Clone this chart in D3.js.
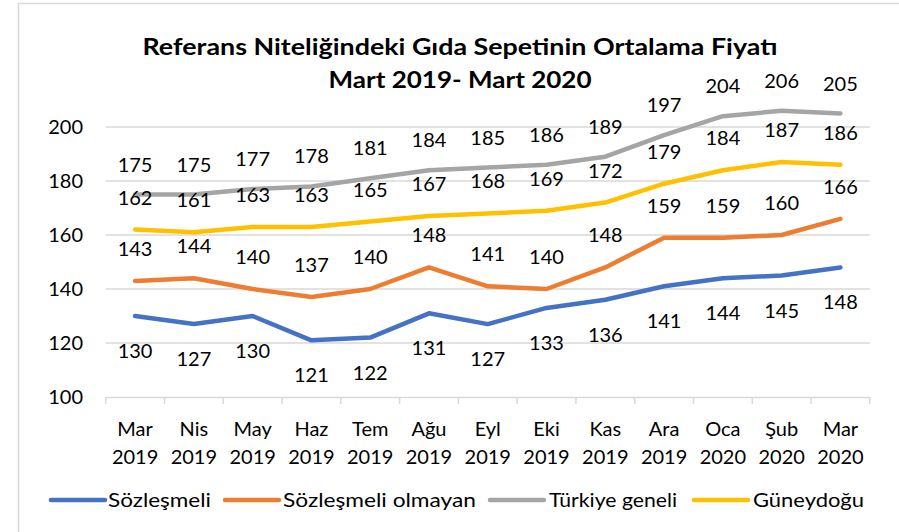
<!DOCTYPE html>
<html><head><meta charset="utf-8">
<script src="https://cdn.jsdelivr.net/npm/d3@7"></script>
<style>body{margin:0;background:#fff;}svg{display:block;font-family:Lato,"Open Sans",sans-serif;}</style>
</head><body>
<svg id="c" width="899" height="532"></svg>
<script>
const months = ["Mar","Nis","May","Haz","Tem","Ağu","Eyl","Eki","Kas","Ara","Oca","Şub","Mar"];
const years = ["2019","2019","2019","2019","2019","2019","2019","2019","2019","2019","2020","2020","2020"];
const sozlesmeli = [130,127,130,121,122,131,127,133,136,141,144,145,148];
const sozlesmeliOlmayan = [143,144,140,137,140,148,141,140,148,159,159,160,166];
const turkiyeGeneli = [175,175,177,178,181,184,185,186,189,197,204,206,205];
const guneydogu = [162,161,163,163,165,167,168,169,172,179,184,187,186];
const yTicks = [100,120,140,160,180,200];
const seriesNames = ["Sözleşmeli","Sözleşmeli olmayan","Türkiye geneli","Güneydoğu"];
const titleLines = ["Referans Niteliğindeki Gıda Sepetinin Ortalama Fiyatı","Mart 2019- Mart 2020"];

const series = [
  {name:seriesNames[0], values:sozlesmeli, color:"#4472C4", labelDy:35},
  {name:seriesNames[1], values:sozlesmeliOlmayan, color:"#ED7D31", labelDy:-32},
  {name:seriesNames[2], values:turkiyeGeneli, color:"#A5A5A5", labelDy:-30},
  {name:seriesNames[3], values:guneydogu, color:"#FFC000", labelDy:-32}
];

const svg = d3.select("#c");
// chart border
svg.append("rect").attr("x",18.5).attr("y",3.5).attr("width",900).attr("height",540)
  .attr("fill","#fff").attr("stroke","#D9D9D9").attr("stroke-width",1.5);

const x = d3.scaleBand().domain(d3.range(months.length)).range([105.7,869.8]);
const y = d3.scaleLinear().domain([100,200]).range([397,127]);

// gridlines
svg.append("g").selectAll("line").data(yTicks.filter(d=>d>100)).join("line")
  .attr("x1",x.range()[0]).attr("x2",x.range()[1])
  .attr("y1",d=>y(d)).attr("y2",d=>y(d))
  .attr("stroke","#D9D9D9").attr("stroke-width",1.5);

// y labels
svg.append("g").selectAll("text").data(yTicks).join("text")
  .attr("x",83).attr("y",d=>y(d)).attr("dy","0.35em").attr("text-anchor","end")
  .attr("font-size",20).attr("fill","#000").text(d=>d);

// x axis
const xAxis = d3.axisBottom(x).tickSize(0).tickFormat("");
const gx = svg.append("g").attr("transform",`translate(0,${y(100)})`).call(xAxis);
gx.select(".domain").attr("stroke","#D9D9D9").attr("stroke-width",1.5);
gx.selectAll(".tick").remove();
const bounds = d3.range(months.length+1).map(i=> i<months.length ? x(i) : x.range()[1]);
svg.append("g").selectAll("line").data(bounds).join("line")
  .attr("x1",d=>d).attr("x2",d=>d).attr("y1",y(100)).attr("y2",y(100)+7)
  .attr("stroke","#D9D9D9").attr("stroke-width",1.5);

const xl = svg.append("g").selectAll("g").data(months).join("g")
  .attr("transform",(d,i)=>`translate(${x(i)+x.bandwidth()/2},0)`);
xl.append("text").attr("y",429).attr("dy","0.35em").attr("text-anchor","middle").attr("font-size",20).text(d=>d);
xl.append("text").attr("y",457).attr("dy","0.35em").attr("text-anchor","middle").attr("font-size",20).text((d,i)=>years[i]);

// lines
const line = d3.line().x((d,i)=>x(i)+x.bandwidth()/2).y(d=>y(d));
svg.append("g").selectAll("path").data(series).join("path")
  .attr("d",d=>line(d.values)).attr("fill","none").attr("stroke",d=>d.color)
  .attr("stroke-width",4.5).attr("stroke-linejoin","round").attr("stroke-linecap","round");

// data labels
series.forEach(s=>{
  svg.append("g").selectAll("text").data(s.values).join("text")
    .attr("x",(d,i)=>x(i)+x.bandwidth()/2).attr("y",d=>y(d)+s.labelDy).attr("dy","0.35em")
    .attr("text-anchor","middle").attr("font-size",20).attr("fill","#000").text(d=>d);
});

// title
svg.append("text").attr("x",460).attr("y",47).attr("dy","0.35em").attr("text-anchor","middle")
  .attr("font-size",23).attr("font-weight","bold").attr("textLength",635).attr("lengthAdjust","spacingAndGlyphs").text(titleLines[0]);
svg.append("text").attr("x",460).attr("y",80).attr("dy","0.35em").attr("text-anchor","middle")
  .attr("font-size",23).attr("font-weight","bold").attr("textLength",263).attr("lengthAdjust","spacingAndGlyphs").text(titleLines[1]);

// legend
const legendPos = [{lx:51,tx:108,tw:103},{lx:225,tx:283,tw:193},{lx:490,tx:549,tw:128},{lx:694,tx:753,tw:111}];
const lg = svg.append("g").selectAll("g").data(series).join("g");
lg.append("line").attr("x1",(d,i)=>legendPos[i].lx).attr("x2",(d,i)=>legendPos[i].lx+54)
  .attr("y1",500).attr("y2",500).attr("stroke",d=>d.color).attr("stroke-width",4.5).attr("stroke-linecap","round");
lg.append("text").attr("x",(d,i)=>legendPos[i].tx).attr("y",500).attr("dy","0.35em")
  .attr("font-size",20).attr("textLength",(d,i)=>legendPos[i].tw).attr("lengthAdjust","spacingAndGlyphs").text(d=>d.name);
</script>
</body></html>
